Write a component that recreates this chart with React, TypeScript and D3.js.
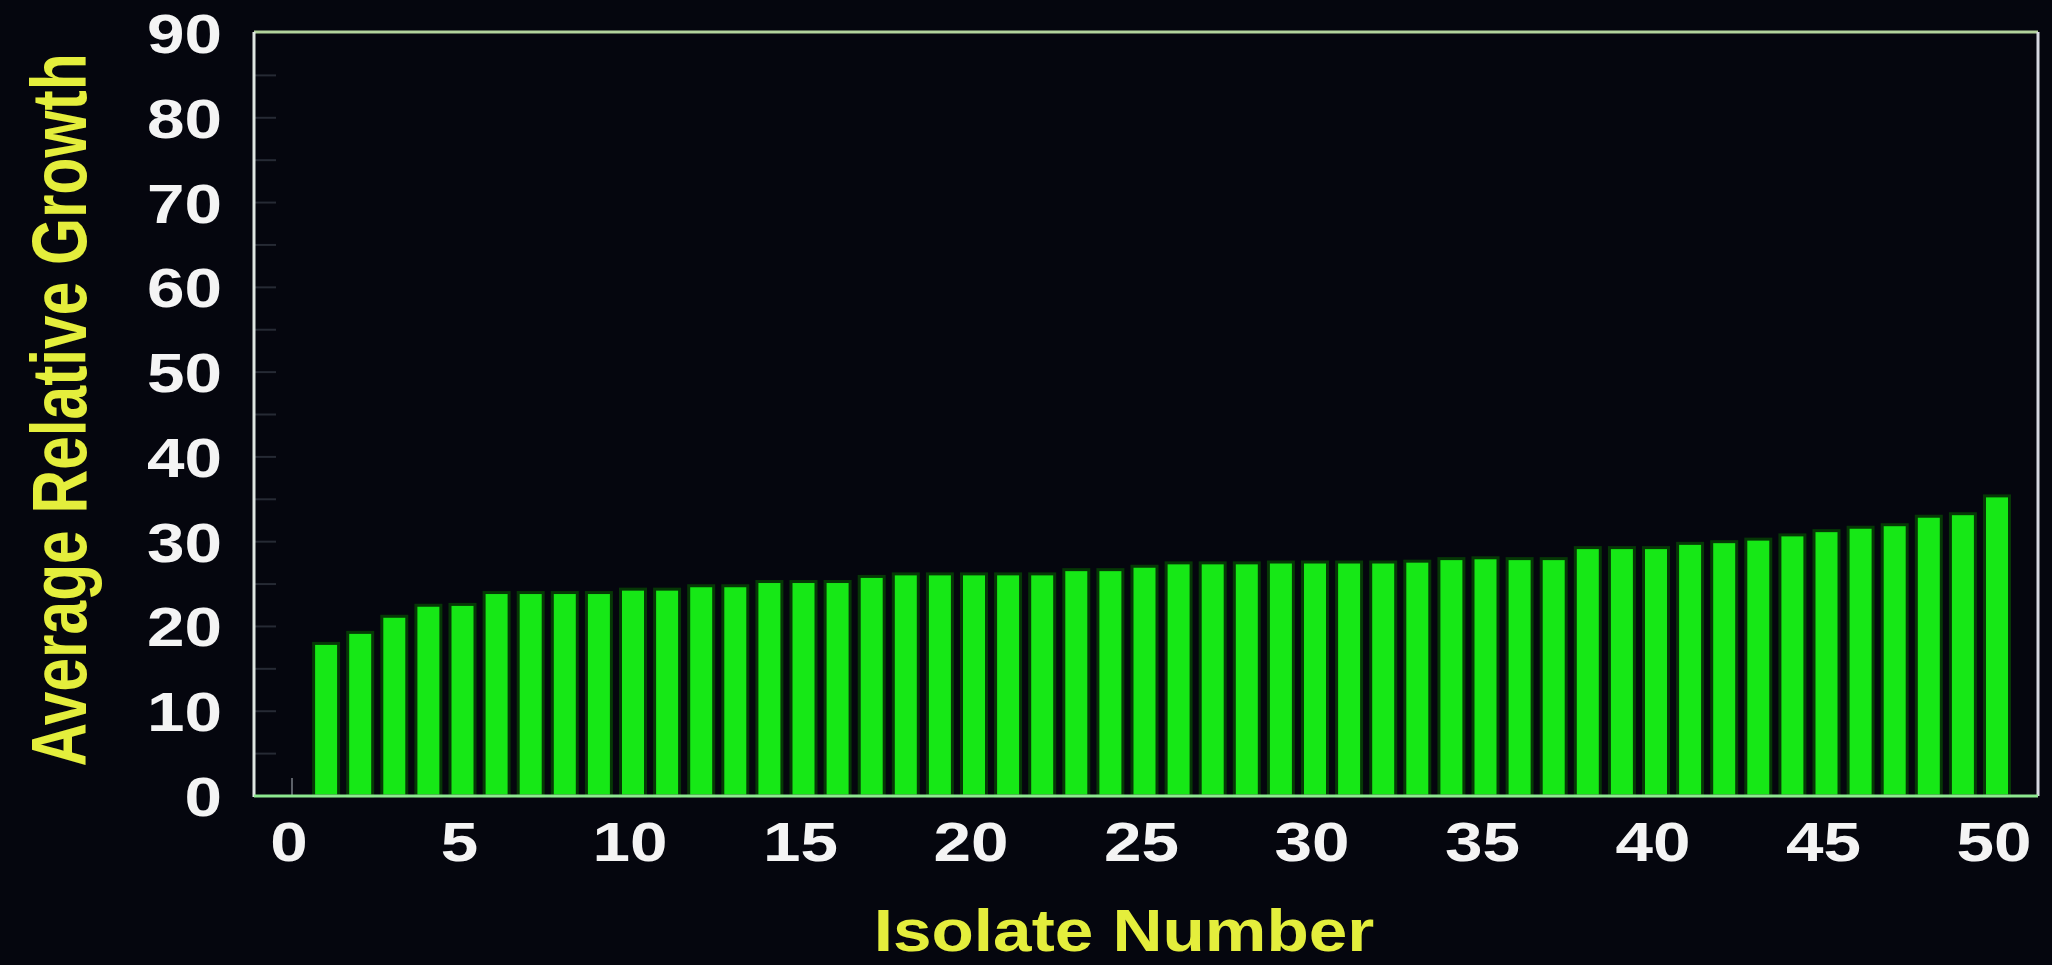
import React, { useEffect } from "react";
import * as d3 from "d3";

const isolates = [
  1, 2, 3, 4, 5, 6, 7, 8, 9, 10, 11, 12, 13, 14, 15, 16, 17, 18, 19, 20, 21, 22, 23, 24, 25,
  26, 27, 28, 29, 30, 31, 32, 33, 34, 35, 36, 37, 38, 39, 40, 41, 42, 43, 44, 45, 46, 47, 48, 49, 50,
];
const growth = [
  18.0, 19.3, 21.2, 22.5, 22.6, 24.0, 24.0, 24.0, 24.0, 24.4, 24.4, 24.8, 24.8, 25.3, 25.3, 25.3,
  25.9, 26.2, 26.2, 26.2, 26.2, 26.2, 26.7, 26.7, 27.1, 27.5, 27.5, 27.5, 27.6, 27.6, 27.6, 27.6,
  27.7, 28.0, 28.1, 28.0, 28.0, 29.3, 29.3, 29.3, 29.8, 30.0, 30.3, 30.8, 31.3, 31.7, 32.0, 33.0,
  33.3, 35.4,
];
const yTicks = [0, 10, 20, 30, 40, 50, 60, 70, 80, 90];
const yMinorTicks = [5, 15, 25, 35, 45, 55, 65, 75, 85];
const xTicks = [0, 5, 10, 15, 20, 25, 30, 35, 40, 45, 50];
const xTitle = "Isolate Number";
const yTitle = "Average Relative Growth";

const W = 2052;
const H = 965;
const FONT = "'Liberation Sans', Arial, Helvetica, sans-serif";

export default function App() {
  useEffect(() => {
    document.body.style.margin = "0";
    document.body.style.background = "#05060e";
  }, []);

  const x = d3.scaleLinear().domain([0, 50]).range([292, 1997]);
  const y = d3.scaleLinear().domain([0, 90]).range([796, 33]);
  const frame = { left: 254, right: 2038, top: 32, bottom: 796 };
  const barW = 25;

  return (
    <div style={{ position: "absolute", left: 0, top: 0, width: W, height: H }}>
      <svg width={W} height={H} style={{ display: "block" }}>
        <rect x={0} y={0} width={W} height={H} fill="#05060e" />
        {/* inward ticks */}
        {yMinorTicks.concat(yTicks.slice(1, 9)).map((t) => (
          <line key={"yt" + t} x1={frame.left} x2={frame.left + 22} y1={y(t)} y2={y(t)} stroke="#262a34" strokeWidth={2} />
        ))}
        {xTicks.map((t) => (
          <line key={"xt" + t} x1={x(t)} x2={x(t)} y1={frame.bottom} y2={frame.bottom - 18} stroke="#5c6068" strokeWidth={2} />
        ))}
        {/* bars */}
        {isolates.map((iso, i) => (
          <rect
            key={iso}
            x={x(iso) - barW / 2}
            y={y(growth[i])}
            width={barW}
            height={y(0) - y(growth[i])}
            fill="#16e816"
            stroke="#063806"
            strokeWidth={3}
          />
        ))}
        {/* frame */}
        <line x1={frame.left} x2={frame.right} y1={frame.top} y2={frame.top} stroke="#b2d29c" strokeWidth={3} />
        <line x1={frame.right} x2={frame.right} y1={frame.top} y2={frame.bottom} stroke="#d6d8e0" strokeWidth={3} />
        <line x1={frame.left} x2={frame.left} y1={frame.top} y2={frame.bottom + 1} stroke="#dfe6e2" strokeWidth={3} />
        <line x1={frame.left} x2={frame.right} y1={frame.bottom} y2={frame.bottom} stroke="#8ee890" strokeWidth={3} />
        {/* y tick labels */}
        {yTicks.map((t) => {
          const s = String(t);
          return (
            <text
              key={"yl" + t}
              x={222}
              y={y(t) + 20}
              textAnchor="end"
              fontFamily={FONT}
              fontWeight="bold"
              fontSize={56}
              fill="#f4f4f4"
              textLength={37.5 * s.length}
              lengthAdjust="spacingAndGlyphs"
            >
              {s}
            </text>
          );
        })}
        {/* x tick labels */}
        {xTicks.map((t) => {
          const s = String(t);
          return (
            <text
              key={"xl" + t}
              x={x(t) - 3}
              y={861}
              textAnchor="middle"
              fontFamily={FONT}
              fontWeight="bold"
              fontSize={56}
              fill="#f4f4f4"
              textLength={37.5 * s.length}
              lengthAdjust="spacingAndGlyphs"
            >
              {s}
            </text>
          );
        })}
        {/* axis titles */}
        <text
          transform="translate(1124,951) scale(1.155,1)"
          x={0}
          y={0}
          textAnchor="middle"
          fontFamily={FONT}
          fontWeight="bold"
          fontSize={60}
          fill="#e4ee3c"
        >
          {xTitle}
        </text>
        <text
          transform="translate(86,410) rotate(-90) scale(0.775,1)"
          x={0}
          y={0}
          textAnchor="middle"
          fontFamily={FONT}
          fontWeight="bold"
          fontSize={78}
          fill="#e4ee3c"
        >
          {yTitle}
        </text>
      </svg>
    </div>
  );
}
